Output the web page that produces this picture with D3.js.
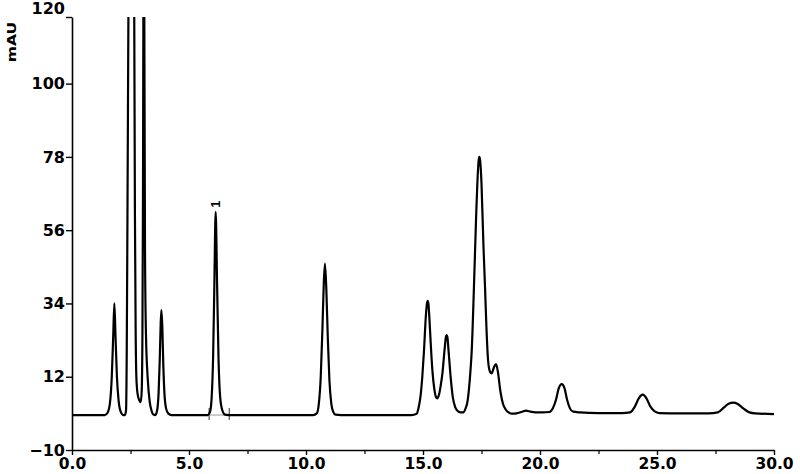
<!DOCTYPE html>
<html>
<head>
<meta charset="utf-8">
<script src="https://cdn.jsdelivr.net/npm/d3@7/dist/d3.min.js"></script>
<style>
  html, body { margin: 0; padding: 0; background: #fff; }
  svg { display: block; }
</style>
</head>
<body>
<svg id="chart" width="800" height="474"></svg>
<script>
// ---- data ----
const traceTime = [
  0.00, 1.40, 1.52, 1.62, 1.70, 1.76, 1.81, 1.86, 1.92, 1.99, 2.08, 2.19,
  2.26, 2.31, 2.34, 2.37, 2.41, 2.47, 2.53, 2.60, 2.66, 2.69, 2.72, 2.75, 2.80, 2.87, 2.94,
  2.98, 3.01, 3.03, 3.05, 3.07, 3.09, 3.12, 3.16, 3.24, 3.32, 3.40, 3.47, 3.56,
  3.64, 3.70, 3.75, 3.79, 3.82, 3.86, 3.90, 3.95, 4.02, 4.12, 4.25,
  5.80, 5.90, 5.97, 6.03, 6.08, 6.14, 6.20, 6.26, 6.33, 6.42, 6.54, 6.70,
  10.30, 10.46, 10.55, 10.63, 10.70, 10.76, 10.81, 10.87, 10.93, 11.00, 11.08, 11.16, 11.26, 11.50,
  14.50, 14.73, 14.82, 14.90, 14.97, 15.04, 15.12, 15.17, 15.20, 15.23, 15.27, 15.33, 15.40, 15.48, 15.55, 15.61,
  15.68, 15.76, 15.83, 15.92, 15.98, 16.01, 16.04, 16.09, 16.18, 16.27, 16.38, 16.50, 16.62, 16.72,
  16.82, 16.90, 16.96, 17.02, 17.08, 17.18, 17.27, 17.35, 17.38, 17.41, 17.44, 17.50, 17.58, 17.65, 17.71, 17.77, 17.84, 17.93,
  18.03, 18.12, 18.20, 18.30, 18.42, 18.55, 18.68, 18.79, 19.00, 19.20, 19.40, 19.60, 19.80, 20.10,
  20.40, 20.55, 20.68, 20.80, 20.93, 21.05, 21.16, 21.28, 21.42, 21.70, 22.50, 23.50,
  23.85, 24.05, 24.22, 24.39, 24.55, 24.72, 24.90, 25.10, 26.00, 27.20,
  27.60, 27.85, 28.06, 28.26, 28.45, 28.70, 28.95, 29.20, 30.00
];
const traceMAU = [
  0.5, 0.5, 1.2, 4, 12, 24, 34, 24, 12, 5, 1.5, 0.5,
  0.5, 2, 20, 60, 120, 200, 260, 200, 120, 60, 26, 12, 7, 5, 4.4,
  8, 25, 60, 120, 300, 120, 50, 25, 11, 4.5, 1.8, 0.7, 0.5,
  2, 7, 17, 28, 32, 27, 16, 7, 2.5, 0.9, 0.5,
  0.5, 1.5, 6, 18, 38, 61.5, 40, 18, 6, 2, 0.6, 0.5,
  0.5, 1, 4, 12, 26, 40, 46, 38, 24, 11, 4, 1.5, 0.6, 0.5,
  0.5, 0.9, 3, 6.5, 12, 19.5, 30, 34, 34.8, 34, 30, 22, 14, 8.5, 6, 5.5,
  6.5, 9.5, 13, 20, 24, 24.5, 24, 20, 12, 6, 2.8, 1.6, 1.3, 1.3,
  2.5, 4.5, 8, 13, 19.5, 39.5, 60, 74, 77, 78, 77, 70, 52, 39, 27, 18, 14, 13,
  14.8, 15.8, 13.5, 8, 3.8, 2, 1.2, 0.9, 1.0, 1.4, 1.8, 1.5, 1.3, 1.3,
  1.4, 2.5, 5, 8.5, 9.8, 8.5, 5, 2.5, 1.5, 1.3, 1.1, 1.1,
  1.3, 3, 5.5, 6.6, 5.5, 3, 1.6, 1.1, 1.0, 1.0,
  1.3, 2.7, 3.9, 4.2, 3.8, 2.4, 1.3, 1.0, 0.8
];
const yTicks = [-10, 12, 34, 56, 78, 100, 120];
const xTicks = [0, 5, 10, 15, 20, 25, 30];
const xMinorTicks = [2.5, 7.5, 12.5, 17.5, 22.5, 27.5];
const peakLabels = ["1"];
const peakLabelTime = [6.14];
const peakLabelMAU = [61.5];
const integrationMarks = [5.86, 6.72];
const yAxisTitle = "mAU";

// ---- drawing ----
const svg = d3.select("#chart");
const x = d3.scaleLinear().domain([0, 30]).range([72, 774]);
const y = d3.scaleLinear().domain([-10, 120]).range([450, 17]);
const baseMAU = 0.5;

svg.append("defs").append("clipPath").attr("id", "plotclip")
  .append("rect")
  .attr("x", x(0) - 2).attr("y", y(120))
  .attr("width", x(30) - x(0) + 4).attr("height", y(-10) - y(120));

const pts = traceTime.map((t, i) => [t, traceMAU[i]]);
const line = d3.line()
  .x(d => x(d[0]))
  .y(d => y(d[1]))
  .curve(d3.curveMonotoneX);

// integration markers
svg.append("g").selectAll("line").data(integrationMarks).join("line")
  .attr("x1", d => x(d)).attr("x2", d => x(d))
  .attr("y1", y(baseMAU) - 7).attr("y2", y(baseMAU) + 5)
  .attr("stroke", "#333").attr("stroke-width", 1);
svg.append("line")
  .attr("x1", x(integrationMarks[0])).attr("x2", x(integrationMarks[1]))
  .attr("y1", y(baseMAU)).attr("y2", y(baseMAU))
  .attr("stroke", "#999").attr("stroke-width", 1);

svg.append("path")
  .datum(pts)
  .attr("clip-path", "url(#plotclip)")
  .attr("fill", "none")
  .attr("stroke", "#000")
  .attr("stroke-width", 2.2)
  .attr("stroke-linejoin", "round")
  .attr("d", line);

// axes
const fontFam = "'DejaVu Sans', sans-serif";
const yAxis = d3.axisLeft(y).tickValues(yTicks).tickFormat(d3.format("d"))
  .tickSize(6).tickSizeOuter(0).tickPadding(1);
const gy = svg.append("g").attr("transform", `translate(${x(0)},0)`).call(yAxis);
gy.select(".domain").attr("stroke-width", 1.6);
gy.selectAll(".tick line").attr("stroke-width", 1.4);
gy.selectAll(".tick text").attr("font-family", fontFam).attr("font-weight", "bold")
  .attr("font-size", 16).attr("fill", "#000")
  .attr("dy", d => d === 120 ? "-0.2em" : "0.32em");

const xAxis = d3.axisBottom(x).tickValues(xTicks).tickFormat(d3.format(".1f"))
  .tickSize(5).tickSizeOuter(0).tickPadding(3);
const gx = svg.append("g").attr("transform", `translate(0,${y(-10)})`).call(xAxis);
gx.select(".domain").attr("stroke-width", 1.6);
gx.selectAll(".tick line").attr("stroke-width", 1.4);
gx.selectAll(".tick text").attr("font-family", fontFam).attr("font-weight", "bold")
  .attr("font-size", 15.5).attr("fill", "#000");

const xMinor = d3.axisBottom(x).tickValues(xMinorTicks).tickFormat("").tickSize(4).tickSizeOuter(0);
const gxm = svg.append("g").attr("transform", `translate(0,${y(-10)})`).call(xMinor);
gxm.select(".domain").remove();
gxm.selectAll(".tick line").attr("stroke-width", 1.2);

// y axis title
svg.append("text")
  .attr("transform", "translate(16,42) rotate(-90) scale(1.3,1)")
  .attr("text-anchor", "middle")
  .attr("font-family", fontFam).attr("font-weight", "bold")
  .attr("font-size", 12)
  .attr("fill", "#000")
  .text(yAxisTitle);

// peak labels
svg.append("g").selectAll("text").data(peakLabels).join("text")
  .attr("transform", (d, i) => `translate(${x(peakLabelTime[i]) + 4},${y(peakLabelMAU[i]) - 4}) rotate(-90)`)
  .attr("text-anchor", "start")
  .attr("font-family", "'Liberation Sans', Arial, sans-serif").attr("font-weight", "bold")
  .attr("font-size", 13)
  .text(d => d);
</script>
</body>
</html>
